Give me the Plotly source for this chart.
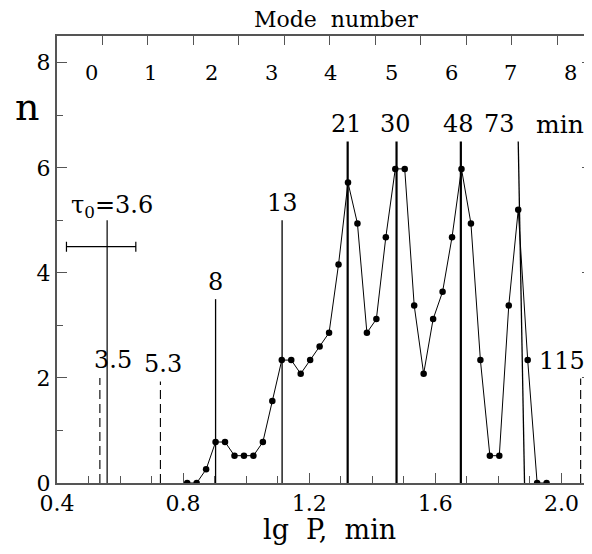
import plotly.graph_objects as go

# ---------------- data ----------------
lgP = [0.813, 0.843, 0.873, 0.903, 0.933, 0.963, 0.993, 1.023, 1.053, 1.083,
       1.113, 1.143, 1.173, 1.203, 1.233, 1.263, 1.293, 1.323, 1.353, 1.383,
       1.413, 1.443, 1.473, 1.503, 1.533, 1.563, 1.593, 1.623, 1.653, 1.683,
       1.713, 1.743, 1.773, 1.803, 1.833, 1.863, 1.893, 1.923, 1.953]
n_count = [0, 0, 0.26, 0.78, 0.78, 0.52, 0.52, 0.52, 0.78, 1.56,
           2.34, 2.34, 2.08, 2.34, 2.60, 2.86, 4.16, 5.72, 4.94, 2.86,
           3.12, 4.68, 5.98, 5.98, 3.38, 2.08, 3.12, 3.64, 4.68, 5.98,
           4.94, 2.34, 0.52, 0.52, 3.38, 5.20, 2.34, 0, 0]

period_labels = ["8", "13", "21", "30", "48", "73"]
period_x_bottom = [0.903, 1.114, 1.322, 1.477, 1.681, 1.883]
period_x_top = [0.903, 1.114, 1.322, 1.477, 1.681, 1.863]
period_top = [3.5, 5.0, 6.5, 6.5, 6.5, 6.5]

limit_labels = ["3.5", "5.3", "115"]
limit_x = [0.536, 0.728, 2.061]
limit_top = [2.0, 1.93, 1.99]

tau0_label = "τ<sub>0</sub>=3.6"
tau0_x = 0.559
tau0_top = 5.0
tau0_n = 4.5
tau0_err_minus = 0.129
tau0_err_plus = 0.091

mode_labels = ["0", "1", "2", "3", "4", "5", "6", "7", "8"]
mode_label_x = [0.508, 0.698, 0.889, 1.079, 1.269, 1.460, 1.650, 1.840, 2.030]
mode_label_n = 7.80
mode_tick_x = [0.544, 0.688, 0.833, 0.977, 1.121, 1.265, 1.410, 1.554, 1.698, 1.842, 1.986]

x_tick_vals = [0.4, 0.8, 1.2, 1.6, 2.0]
x_tick_text = ["0.4", "0.8", "1.2", "1.6", "2.0"]
y_tick_vals = [0, 2, 4, 6, 8]
y_tick_text = ["0", "2", "4", "6", "8"]

# ---------------- style ----------------
FONT = "DejaVu Serif"
AX = "#555555"
period_widths = [1.3, 1.3, 2.2, 2.2, 2.2, 1.3]
period_xshift = [0, 0, -1, -1.5, -2, -18.7]
limit_xshift = [12.7, 2.8, -19]

fig = go.Figure()

# vertical period lines
for xb, xt, top, w in zip(period_x_bottom, period_x_top, period_top, period_widths):
    fig.add_trace(go.Scatter(x=[xb, xt], y=[0, top], mode="lines",
                             line=dict(color="black", width=w),
                             showlegend=False, hoverinfo="skip"))

# dashed limit lines
for xv, top in zip(limit_x, limit_top):
    fig.add_trace(go.Scatter(x=[xv, xv], y=[0, top], mode="lines",
                             line=dict(color="black", width=1.1, dash="9px,5px"),
                             showlegend=False, hoverinfo="skip"))

# tau0 line
fig.add_trace(go.Scatter(x=[tau0_x, tau0_x], y=[0, tau0_top], mode="lines",
                         line=dict(color="black", width=1.2),
                         showlegend=False, hoverinfo="skip"))
# tau0 error bar
fig.add_trace(go.Scatter(x=[tau0_x], y=[tau0_n], mode="markers",
                         marker=dict(size=1, color="rgba(0,0,0,0)"),
                         error_x=dict(type="data", symmetric=False,
                                      array=[tau0_err_plus], arrayminus=[tau0_err_minus],
                                      color="black", thickness=1.2, width=5),
                         showlegend=False, hoverinfo="skip"))

# histogram polyline
fig.add_trace(go.Scatter(x=lgP, y=n_count, mode="lines+markers",
                         line=dict(color="black", width=1),
                         marker=dict(color="black", size=6.5, symbol="circle"),
                         showlegend=False, hoverinfo="skip"))

# invisible trace for top axis
fig.add_trace(go.Scatter(x=[0.4, 2.097], y=[0, 0], xaxis="x2", mode="markers",
                         marker=dict(opacity=0), showlegend=False, hoverinfo="skip"))

annotations = []
for lab, xt, top, dx in zip(period_labels, period_x_top, period_top, period_xshift):
    annotations.append(dict(x=xt, y=top, xref="x", yref="y", text=lab, showarrow=False,
                            xshift=dx, yshift=17.5, yanchor="middle",
                            font=dict(family=FONT, size=24, color="black")))
annotations.append(dict(x=period_x_top[-1], y=period_top[-1], xref="x", yref="y", text="min",
                        showarrow=False, xshift=42, yshift=17.5, yanchor="middle",
                        font=dict(family=FONT, size=25, color="black")))
for lab, xv, top, dx in zip(limit_labels, limit_x, limit_top, limit_xshift):
    annotations.append(dict(x=xv, y=top, xref="x", yref="y", text=lab, showarrow=False,
                            xshift=dx, yshift=17.5, yanchor="middle",
                            font=dict(family=FONT, size=24, color="black")))
annotations.append(dict(x=tau0_x, y=tau0_top, xref="x", yref="y", text=tau0_label,
                        showarrow=False, xshift=4.4, yshift=14, yanchor="middle",
                        font=dict(family=FONT, size=24, color="black")))
for lab, xv in zip(mode_labels, mode_label_x):
    annotations.append(dict(x=xv, y=mode_label_n, xref="x", yref="y", text=lab,
                            showarrow=False, yanchor="middle",
                            font=dict(family=FONT, size=21, color="black")))
# titles
annotations.append(dict(x=0.5215, y=1.038, xref="paper", yref="paper", text="Mode  number",
                        showarrow=False, yanchor="middle", xanchor="center",
                        font=dict(family=FONT, size=22, color="black")))
annotations.append(dict(x=0.510, y=-0.105, xref="paper", yref="paper", text="lg  P,  min",
                        showarrow=False, yanchor="middle", xanchor="center",
                        font=dict(family=FONT, size=27, color="black")))
annotations.append(dict(x=-0.0566, y=7.156, xref="paper", yref="y", text="n",
                        showarrow=False, yanchor="middle", xanchor="center",
                        font=dict(family=FONT, size=38, color="black")))

fig.update_layout(
    width=584, height=546,
    margin=dict(l=49, r=0, t=28, b=71, autoexpand=False),
    paper_bgcolor="white", plot_bgcolor="white",
    annotations=annotations,
    xaxis=dict(range=[0.4, 2.097], showgrid=False, zeroline=False, automargin=False,
               showline=True, linecolor=AX, linewidth=2, mirror=True,
               ticks="inside", ticklen=10, tickwidth=1.3, tickcolor=AX,
               tickvals=x_tick_vals, ticktext=x_tick_text,
               tickfont=dict(family=FONT, size=22, color="black"),
               minor=dict(dtick=0.1, tick0=0.4, ticks="inside", ticklen=7,
                          tickwidth=1.3, tickcolor=AX)),
    xaxis2=dict(range=[0.4, 2.097], overlaying="x", side="top", showgrid=False,
                zeroline=False, showline=False, ticks="inside", ticklen=9,
                tickwidth=1.3, tickcolor=AX, tickvals=mode_tick_x,
                showticklabels=False, automargin=False),
    yaxis=dict(range=[0, 8.51], showgrid=False, zeroline=False, automargin=False,
               showline=True, linecolor=AX, linewidth=2, mirror="ticks",
               ticks="inside", ticklen=10, tickwidth=1.3, tickcolor=AX,
               tickvals=y_tick_vals, ticktext=y_tick_text,
               tickfont=dict(family=FONT, size=22, color="black"),
               minor=dict(dtick=1, tick0=0, ticks="inside", ticklen=6,
                          tickwidth=1.3, tickcolor=AX)),
)

fig.write_html("out.html")
